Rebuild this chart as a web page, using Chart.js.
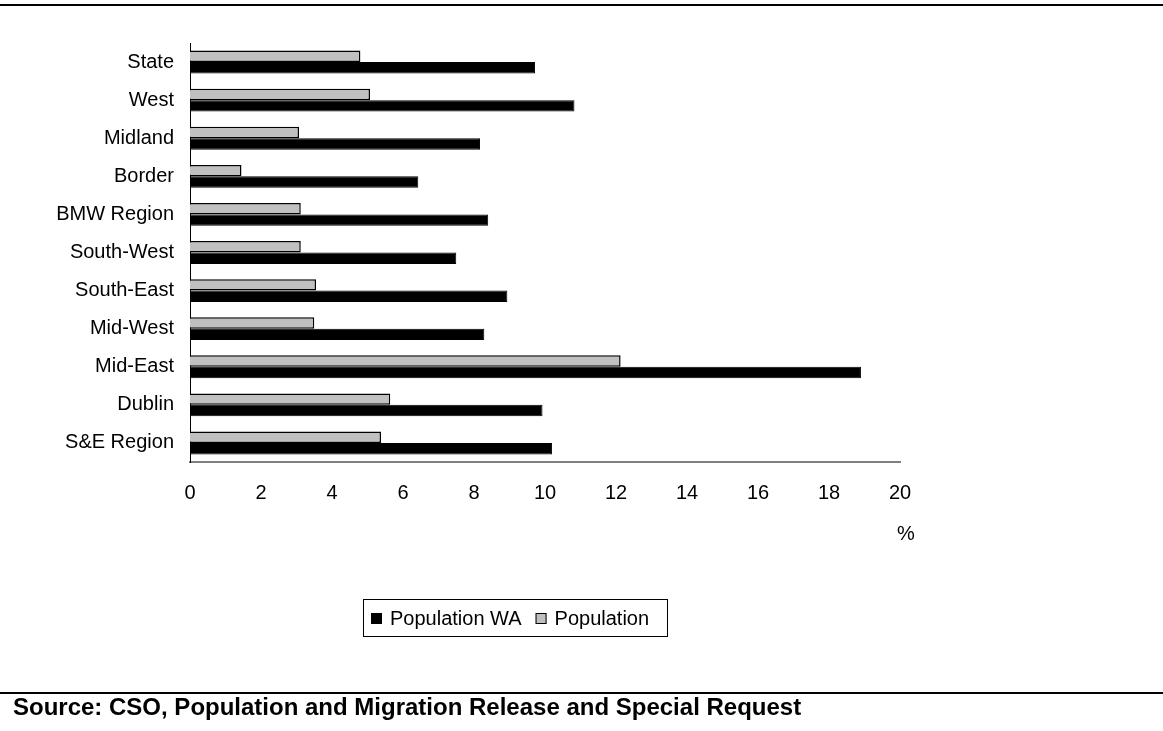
<!DOCTYPE html>
<html>
<head>
<meta charset="utf-8">
<script src="https://cdn.jsdelivr.net/npm/chart.js@4"></script>
<style>
  body { margin: 0; background: #fff; overflow: hidden; }
  #wrap { position: relative; width: 1163px; height: 731px; }
  #chart { position: absolute; left: 0; top: 0; }
  .rule { position: absolute; left: 0; width: 1163px; height: 2px; background: #000; }
  #source { position: absolute; left: 13px; top: 695px; font: bold 24px "Liberation Sans", Arial, sans-serif; line-height: 1; color: #000; white-space: nowrap; }
</style>
</head>
<body>
<div id="wrap">
  <div class="rule" style="top:4px"></div>
  <canvas id="chart" width="1163" height="731"></canvas>
  <div class="rule" style="top:692px"></div>
  <div id="source">Source: CSO, Population and Migration Release and Special Request</div>
</div>
<script>
// categories top to bottom, as in the picture
const regions = ['State', 'West', 'Midland', 'Border', 'BMW Region', 'South-West',
                 'South-East', 'Mid-West', 'Mid-East', 'Dublin', 'S&E Region'];
// % change
const population = [4.8, 5.07, 3.07, 1.45, 3.12, 3.12, 3.55, 3.5, 12.13, 5.64, 5.38];
const populationWA = [9.72, 10.83, 8.17, 6.43, 8.4, 7.5, 8.94, 8.29, 18.9, 9.93, 10.2];
const xTicks = [0, 2, 4, 6, 8, 10, 12, 14, 16, 18, 20];

const FONT = '"Liberation Sans", Arial, sans-serif';

// draws the "%" unit and the boxed legend under the chart
const extras = {
    id: 'extras',
    afterDraw(chart) {
        const c = chart.ctx;
        c.save();
        c.fillStyle = '#000';
        c.font = '20px ' + FONT;
        c.textAlign = 'center';
        c.textBaseline = 'middle';
        c.fillText('%', 906, 534);

        // legend box
        c.strokeStyle = '#000';
        c.lineWidth = 1;
        c.strokeRect(363.5, 599.5, 304, 37);
        c.textAlign = 'left';
        let x = 371;
        const items = chart.data.datasets.slice().reverse();
        items.forEach(ds => {
            c.fillStyle = ds.backgroundColor;
            c.fillRect(x, 613, 11, 11);
            c.strokeStyle = '#000';
            c.strokeRect(x + 0.5, 613.5, 10, 10);
            c.fillStyle = '#000';
            c.fillText(ds.label, x + 19, 619);
            x += 19 + c.measureText(ds.label).width + 14;
        });
        c.restore();
    }
};

const ctx = document.getElementById('chart').getContext('2d');
const chart = new Chart(ctx, {
    type: 'bar',
    data: {
        labels: regions,
        datasets: [{
            label: 'Population',
            data: population,
            backgroundColor: '#c0c0c0',
            borderColor: '#000',
            borderWidth: 1.5
        }, {
            label: 'Population WA',
            data: populationWA,
            backgroundColor: '#000',
            borderColor: '#000',
            borderWidth: 1
        }]
    },
    options: {
        indexAxis: 'y',
        responsive: false,
        animation: false,
        layout: { padding: { top: 43, right: 263, bottom: 0, left: 0 } },
        datasets: { bar: { categoryPercentage: 0.6, barPercentage: 1.0 } },
        plugins: {
            legend: { display: false },
            tooltip: { enabled: false }
        },
        scales: {
            x: {
                min: 0,
                max: 20,
                afterBuildTicks: (scale) => { scale.ticks = xTicks.map(v => ({ value: v })); },
                afterFit: (scale) => { scale.height = 269; },
                grid: { display: false, drawTicks: false },
                border: { display: true, color: '#808080', width: 2 },
                ticks: { color: '#000', font: { family: FONT, size: 20 }, padding: 19, maxRotation: 0 }
            },
            y: {
                afterFit: (scale) => { scale.width = 190; },
                grid: { display: false, drawTicks: false },
                border: { display: true, color: '#000', width: 1 },
                ticks: { color: '#000', font: { family: FONT, size: 20 }, padding: 16 }
            }
        }
    },
    plugins: [extras]
});
</script>
</body>
</html>
